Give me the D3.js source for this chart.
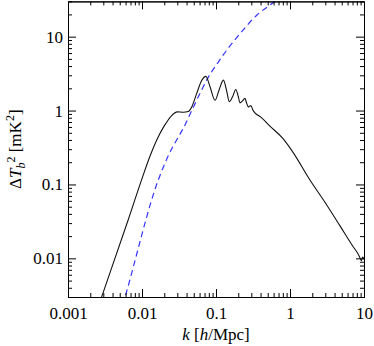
<!DOCTYPE html>
<html>
<head>
<meta charset="utf-8">
<script src="https://cdn.jsdelivr.net/npm/d3@7"></script>
<style>
  body { margin: 0; background: #fff; }
  svg { display: block; font-family: "Liberation Serif", "Times New Roman", serif; }
</style>
</head>
<body>
<svg id="chart" width="374" height="346"></svg>
<script>
'use strict';

// solid black curve, k [h/Mpc] and Delta T_b^2 [mK^2]
const black_k = [0.0025, 0.003, 0.0065, 0.01, 0.013, 0.016, 0.02, 0.025, 0.03, 0.036, 0.042,
    0.047, 0.055, 0.064, 0.073, 0.083, 0.097, 0.11, 0.126, 0.14, 0.151, 0.168, 0.185, 0.2,
    0.211, 0.228, 0.246, 0.26, 0.273, 0.285, 0.297, 0.315, 0.336, 0.4, 0.54, 0.8, 1.11,
    1.86, 2.82, 4.74, 7, 8.6, 9.2, 9.6, 10];
const black_v = [0.00205, 0.0035, 0.033, 0.12, 0.25, 0.41, 0.62, 0.85, 0.96, 0.95, 0.97,
    1.12, 1.72, 2.55, 2.9, 2.1, 1.38, 1.9, 2.58, 1.8, 1.32, 1.55, 1.93, 1.55,
    1.27, 1.35, 1.46, 1.25, 1.12, 1.15, 1.16, 1.02, 0.93, 0.82, 0.61, 0.42, 0.268,
    0.115, 0.062, 0.0275, 0.0148, 0.0108, 0.0093, 0.0104, 0.0097];

// dashed blue curve
const blue_k = [0.0055, 0.0059, 0.0166, 0.022, 0.031, 0.0361, 0.047, 0.0673, 0.0747,
    0.107, 0.126, 0.211, 0.355, 0.595, 0.7];
const blue_v = [0.00236, 0.003, 0.115, 0.23, 0.44, 0.575, 1.0, 2.1, 2.58,
    4.5, 5.7, 11, 19.5, 29, 33];

const x_ticks = [0.001, 0.01, 0.1, 1, 10];
const x_tick_labels = ['0.001', '0.01', '0.1', '1', '10'];
const y_ticks = [0.01, 0.1, 1, 10];
const y_tick_labels = ['0.01', '0.1', '1', '10'];

const width = 374;
const height = 346;
const margin = { top: 1.4, right: 10, bottom: 49, left: 68 };

const x = d3.scaleLog()
    .domain([0.001, 10])
    .range([margin.left, width - margin.right]);

const y = d3.scaleLog()
    .domain([0.003, 30])
    .range([height - margin.bottom, margin.top]);

const svg = d3.select('#chart');

const x_minor = x.ticks().filter(d => !x_ticks.includes(d));
const y_minor = y.ticks().filter(d => !y_ticks.some(t => Math.abs(t - d) / t < 1e-6));

// clip for the curves
svg.append('clipPath')
    .attr('id', 'plot-clip')
    .append('rect')
    .attr('x', margin.left)
    .attr('y', margin.top)
    .attr('width', width - margin.left - margin.right)
    .attr('height', height - margin.top - margin.bottom);

const line = d3.line()
    .x(d => x(d[0]))
    .y(d => y(d[1]))
    .curve(d3.curveMonotoneX);

const curves = svg.append('g').attr('clip-path', 'url(#plot-clip)');

curves.append('path')
    .datum(blue_k.map((k, i) => [k, blue_v[i]]))
    .attr('fill', 'none')
    .attr('stroke', '#3535ff')
    .attr('stroke-width', 1.2)
    .attr('stroke-dasharray', '6,4')
    .attr('d', line);

curves.append('path')
    .datum(black_k.map((k, i) => [k, black_v[i]]))
    .attr('fill', 'none')
    .attr('stroke', '#111')
    .attr('stroke-width', 1.1)
    .attr('d', line);

// axes, ticks pointing inward on all four sides
const y0 = y.range()[0];
const y1 = y.range()[1];
const x0 = x.range()[0];
const x1 = x.range()[1];

function style_axis(g) {
    g.selectAll('path, line').attr('stroke', '#000').attr('stroke-width', 1);
    g.selectAll('text')
        .attr('fill', '#000')
        .attr('font-family', '"Liberation Serif", "Times New Roman", serif')
        .attr('font-size', 17);
}

svg.append('g')
    .attr('transform', `translate(0,${y0})`)
    .call(d3.axisBottom(x).tickValues(x_ticks)
        .tickFormat((d, i) => x_tick_labels[i])
        .tickSizeInner(-8).tickSizeOuter(0).tickPadding(10))
    .call(style_axis);

svg.append('g')
    .attr('transform', `translate(0,${y0})`)
    .call(d3.axisBottom(x).tickValues(x_minor).tickFormat('')
        .tickSizeInner(-4).tickSizeOuter(0))
    .call(style_axis);

svg.append('g')
    .attr('transform', `translate(0,${y1})`)
    .call(d3.axisTop(x).tickValues(x_ticks).tickFormat('')
        .tickSizeInner(-8).tickSizeOuter(0))
    .call(style_axis);

svg.append('g')
    .attr('transform', `translate(0,${y1})`)
    .call(d3.axisTop(x).tickValues(x_minor).tickFormat('')
        .tickSizeInner(-4).tickSizeOuter(0))
    .call(style_axis);

svg.append('g')
    .attr('transform', `translate(${x0},0)`)
    .call(d3.axisLeft(y).tickValues(y_ticks)
        .tickFormat((d, i) => y_tick_labels[i])
        .tickSizeInner(-8).tickSizeOuter(0).tickPadding(5))
    .call(style_axis);

svg.append('g')
    .attr('transform', `translate(${x0},0)`)
    .call(d3.axisLeft(y).tickValues(y_minor).tickFormat('')
        .tickSizeInner(-4).tickSizeOuter(0))
    .call(style_axis);

svg.append('g')
    .attr('transform', `translate(${x1},0)`)
    .call(d3.axisRight(y).tickValues(y_ticks).tickFormat('')
        .tickSizeInner(-8).tickSizeOuter(0))
    .call(style_axis);

svg.append('g')
    .attr('transform', `translate(${x1},0)`)
    .call(d3.axisRight(y).tickValues(y_minor).tickFormat('')
        .tickSizeInner(-4).tickSizeOuter(0))
    .call(style_axis);

// axis titles
const x_title = svg.append('text')
    .attr('x', (x0 + x1) / 2)
    .attr('y', 340)
    .attr('text-anchor', 'middle')
    .attr('font-size', 17)
    .attr('fill', '#000');
x_title.append('tspan').attr('font-style', 'italic').text('k');
x_title.append('tspan').text(' [');
x_title.append('tspan').attr('font-style', 'italic').text('h');
x_title.append('tspan').text('/Mpc]');

const y_title = svg.append('text')
    .attr('transform', `translate(21,${(y0 + y1) / 2}) rotate(-90)`)
    .attr('text-anchor', 'middle')
    .attr('font-size', 17)
    .attr('fill', '#000');
y_title.append('tspan').text('\u0394');
y_title.append('tspan').attr('font-style', 'italic').text('T');
y_title.append('tspan').attr('font-style', 'italic').attr('font-size', 12).attr('dy', 4).text('b');
y_title.append('tspan').attr('font-size', 12).attr('dy', -10).text('2');
y_title.append('tspan').attr('dy', 6).text(' [mK');
y_title.append('tspan').attr('font-size', 12).attr('dy', -7).text('2');
y_title.append('tspan').attr('dy', 7).text(']');
</script>
</body>
</html>
